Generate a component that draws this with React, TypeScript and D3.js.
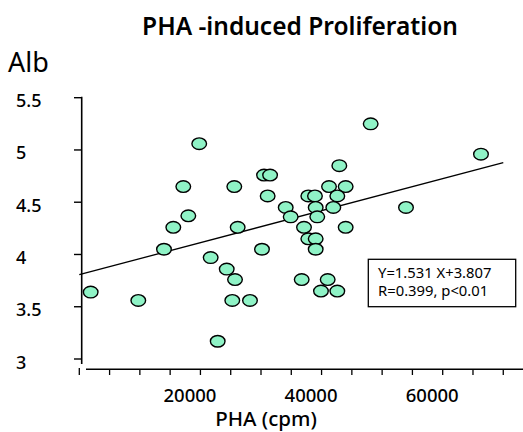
import React, { useRef, useEffect } from "react";
import * as d3 from "d3";

// PHA (cpm) vs serum albumin
const phaValues = [
  19800, 17170, 25590, 18000, 15520, 26150, 13980, 21690, 1880, 9740,
  24340, 25710, 25260, 28180, 22850, 30160, 48110, 66320, 30500, 31500,
  42930, 41230, 43980, 31100, 37810, 38910, 42600, 34080, 39030, 41940,
  53940, 34900, 39290, 37100, 43980, 37810, 39030, 39030, 36720, 41010,
  39900, 42600,
];
const albValues = [
  5.06, 4.65, 4.65, 4.37, 4.26, 4.26, 4.05, 3.97, 3.64, 3.56,
  3.86, 3.76, 3.56, 3.56, 3.17, 4.05, 5.25, 4.96, 4.76, 4.76,
  4.85, 4.65, 4.65, 4.56, 4.56, 4.56, 4.56, 4.45, 4.45, 4.45,
  4.45, 4.36, 4.36, 4.26, 4.26, 4.15, 4.15, 4.05, 3.76, 3.76,
  3.65, 3.65,
];
const yTicks = [3, 3.5, 4, 4.5, 5, 5.5];
const xLabelTicks = [20000, 40000, 60000];
const slope = 1.531;
const intercept = 3.807;
const statLines = ["Y=1.531 X+3.807", "R=0.399, p<0.01"];

const W = 523, H = 432;
const FONT = "'Noto Sans', 'DejaVu Sans', sans-serif";

export default function App() {
  const ref = useRef<SVGSVGElement>(null);

  useEffect(() => {
    const svg = d3.select(ref.current);
    svg.selectAll("*").remove();

    const x = d3.scaleLinear().domain([0, 60000]).range([79.3, 442.7]);
    const y = d3.scaleLinear().domain([3, 5.5]).range([359, 97.7]);

    // title + y label
    svg.append("text")
      .attr("x", 300).attr("y", 35)
      .attr("text-anchor", "middle")
      .style("font-family", FONT).style("font-size", 24.5).style("font-weight", 600)
      .text("PHA -induced Proliferation");
    svg.append("text")
      .attr("x", 8).attr("y", 72)
      .style("font-family", FONT).style("font-size", 27)
      .text("Alb");

    // y axis
    svg.append("line")
      .attr("x1", 81.7).attr("x2", 81.7)
      .attr("y1", y(5.5) - 1).attr("y2", 364)
      .attr("stroke", "#000").attr("stroke-width", 1.6);
    const yg = svg.append("g");
    yg.selectAll("line").data(yTicks).enter().append("line")
      .attr("x1", 74).attr("x2", 82)
      .attr("y1", d => y(d)).attr("y2", d => y(d))
      .attr("stroke", "#000").attr("stroke-width", 1.4);
    yg.selectAll("text").data(yTicks).enter().append("text")
      .attr("x", 16).attr("y", d => y(d) + 9.5)
      .style("font-family", FONT).style("font-size", 18).style("font-weight", 500)
      .text(d => String(d));

    // x axis
    const xTicks = d3.range(0, 70001, 5000);
    svg.append("line")
      .attr("x1", 86).attr("x2", W)
      .attr("y1", 369.3).attr("y2", 369.3)
      .attr("stroke", "#000").attr("stroke-width", 1.6);
    svg.append("g").selectAll("line").data(xTicks).enter().append("line")
      .attr("x1", d => x(d)).attr("x2", d => x(d))
      .attr("y1", d => (d === 0 ? 368 : 369)).attr("y2", 375)
      .attr("stroke", "#000").attr("stroke-width", 1.3);
    svg.append("g").selectAll("text").data(xLabelTicks).enter().append("text")
      .attr("x", d => x(d) - 10.5).attr("y", 401.5)
      .attr("text-anchor", "middle")
      .style("font-family", FONT).style("font-size", 18.5).style("font-weight", 500)
      .text(d => String(d));
    svg.append("text")
      .attr("x", 266).attr("y", 426)
      .attr("text-anchor", "middle")
      .style("font-family", FONT).style("font-size", 20.5).style("font-weight", 500)
      .text("PHA (cpm)");

    // regression line
    svg.append("line")
      .attr("x1", x(0)).attr("y1", y(intercept))
      .attr("x2", x(70000)).attr("y2", y(intercept + slope * 0.7))
      .attr("stroke", "#000").attr("stroke-width", 1.3);

    // points
    svg.append("g").selectAll("ellipse").data(phaValues).enter().append("ellipse")
      .attr("cx", d => x(d))
      .attr("cy", (d, i) => y(albValues[i]))
      .attr("rx", 7.3).attr("ry", 5.8)
      .attr("fill", "#8ff3c6")
      .attr("stroke", "#000").attr("stroke-width", 1.4);

    // stats box
    svg.append("rect")
      .attr("x", 368.3).attr("y", 259.3)
      .attr("width", 147.4).attr("height", 47.4)
      .attr("fill", "#fff").attr("stroke", "#000").attr("stroke-width", 1.3);
    svg.append("g").selectAll("text").data(statLines).enter().append("text")
      .attr("x", 378).attr("y", (d, i) => 277.5 + i * 18.5)
      .style("font-family", FONT).style("font-size", 14.8)
      .text(d => d);
  }, []);

  return (
    <svg ref={ref} width={W} height={H}
      style={{ position: "absolute", left: 0, top: 0, background: "#fff" }} />
  );
}
